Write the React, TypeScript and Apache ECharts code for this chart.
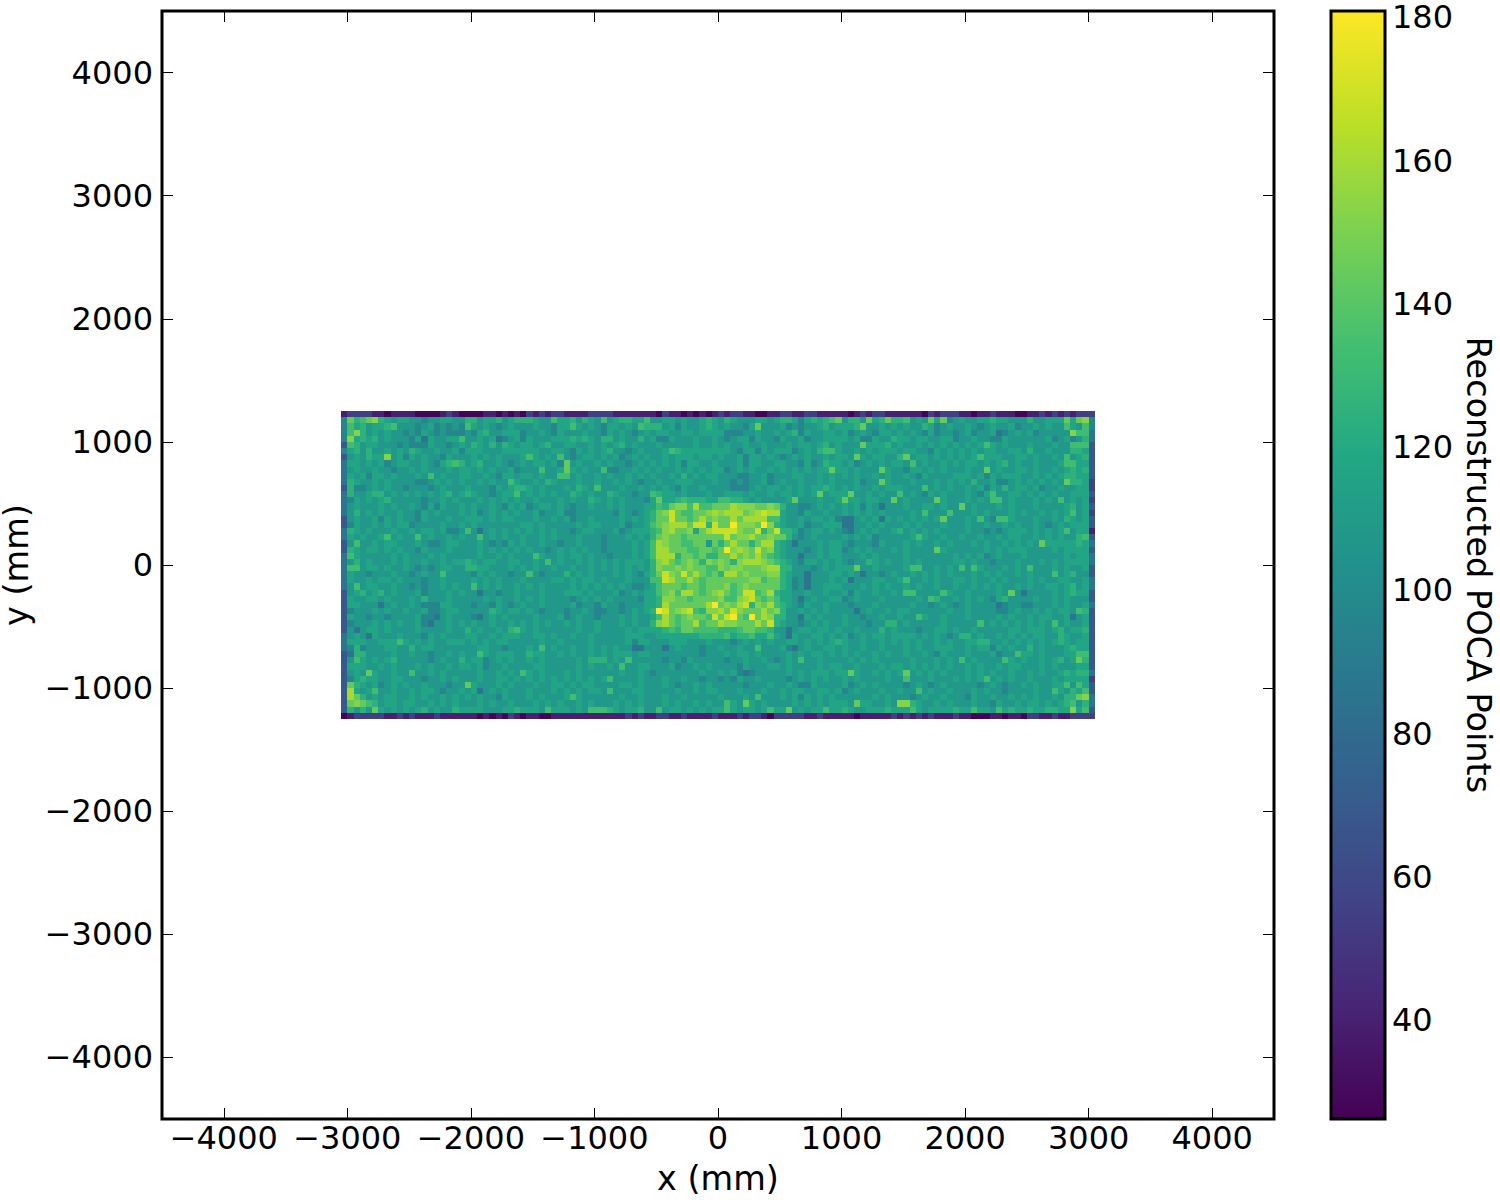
import React, { useEffect, useRef } from "react";
import * as echarts from "echarts";

// Colour-level codes, one string per 50 mm row (top row first), 122 cells each.
const levelCodes = "0123456789abcde";
const levelValues = [28, 40, 55, 70, 86, 97, 108, 117, 125, 133, 144, 152, 160, 168, 180];
const cellRows = [
"1222211011 1100001210 0001101010 2121221111 2222111111 1021101010 1212211001 1221122111 1101212211 1111021222 1101121110 0112121212 22",
"5a89ab8767 7665667766 8867786788 8766977868 7696788779 6677676678 7687666776 7887578789 a6886a78a8 89676a7a56 7667787766 6866777a7a b5",
"5978677896 6656756565 9767656766 6766577976 7657767698 8867576678 7676657a66 6756566786 7778a66767 6766875676 6765676675 6676766976 95",
"59b8676766 5657656555 6578667775 6676576667 6657676567 6776677677 7755566766 7678576677 6756765776 7676575665 6756674567 67566666b9 94",
"5b78786766 6574766779 6676745675 7666777878 7688676686 7557666766 7656775766 5766756677 7767557668 7767766775 6676655766 6666756756 84",
"3986776665 6555766567 6876868767 7678667766 7676786766 6766666766 7676676676 6676776786 7666a77786 7667676767 6767976766 6766676699 93",
"5786866767 6876676675 7776667777 7766776576 7678665676 6679877777 7776577576 7775676899 7667676777 6776657676 7676776677 6866766688 73",
"3676877b67 5767665766 6767676667 9767696567 7676756767 6676777677 6766757767 6567676676 776a767766 8a67767676 7679777667 7676676967 83",
"4776767567 7667657898 6786676567 677675a676 6767665676 7676757766 7666757766 7766575687 7675676767 7696766767 6776767867 6676667997 73",
"4676676656 6767666767 7676766756 669667a767 6695566767 6766767676 7756767667 676767677a 7767666a76 6577676766 6766a67667 7676676787 83",
"4767577676 6676967667 7667657767 7676699676 6767667676 7667686767 7666556675 6667766767 6767667676 6765766667 7767576777 6676767887 73",
"4876676766 6655676767 6676766976 6768766676 6766767656 6766777666 7665656675 6766766767 6667566a76 6676667676 7686675567 6767676a88 72",
"3855676766 5666567666 7666576788 7676667687 6966676676 7676576676 6665556767 7676767787 6767667677 7666967676 6767576867 7675667667 72",
"4866788676 7676767867 8766567796 7676766876 7668766566 9877676667 6677767667 6776767a67 77a6676766 9676576766 6765796677 6767676677 73",
"4576767866 6665667676 6676767676 6766676766 8767676665 7a77898887 7998876766 667a666766 7a7767766a 676666a766 6767699676 6676769676 72",
"4676667676 6765757667 6766765767 5677676566 7667676667 798abb9c99 aaacbbbaab a866556767 6767576466 6766776766 a676667676 6676666786 73",
"4686767667 6657676667 6756767676 6756675566 6666576567 8abda99aab cbcccabcdc c766576676 6767676766 6676966696 6676766676 7667676796 72",
"3676675767 6657666766 7776767766 6766767566 7666676767 8aadaa9aca baacacccc9 9766767767 5446767476 7676767a66 6769659976 6676676876 73",
"3576676767 7566667667 6766666667 7676666676 7766675667 9abcccadd8 daaebbbaeb 8766756677 7446676766 6767666766 6766766767 6676567677 73",
"4876766676 6767767556 9646767676 7676766567 7666756777 89bcaab7ac ddddbaad8a d887567767 6546767667 8676767666 6766565677 7676767967 71",
"4767667967 6696766767 6696767667 6676766676 6656667676 8abaa9aaaa aadabbcaab aa86567666 6767675666 6679766766 7667667677 6676767668 93",
"3696676776 6676556776 6676565767 6676656676 6656666767 9cbaa99aa6 a8acaa8acc 8764666767 7656665766 6767667676 6676766767 676a777778 74",
"3876776767 6657666766 6676767676 7665676767 6656666767 9ccaaa99aa 9aebcbadab 8766656767 7567676667 676666a766 6666767677 7666676777 73",
"4976666676 7666767666 6676676766 6976676776 7665666767 9ccc8aa9a8 8aacabaca9 8766466767 7666767666 6766666667 6767567666 7666666767 74",
"4686766676 7667667677 8767766776 6769676676 7676767776 8bca9aba8b aba8bcccba 9876577676 7656687676 6767666667 7676656667 6667676777 74",
"4996776766 7656567766 8877666767 6766766766 7676767676 8baababaa9 9babbaaabc c886665676 777a667666 6799667676 9697666767 6966676766 73",
"4766566676 6567669666 6576766566 9656668676 7666767657 8adbadaca9 a8ccabaaab b876646667 7676466567 6676767676 6676767667 6766696786 63",
"4766767767 6665667666 6767676667 6666776767 7676667666 99dcaaca9a aaaaaabb9a a875646667 6746667766 7966767667 7676676766 6767667766 74",
"4696776676 6565667676 6967676676 7676666767 6767676556 79aaa9aa9a aab9abaaaa a875646677 7666767676 6767667667 6676767667 6766776786 74",
"3678678676 6675666767 6646656676 6676667776 7666756767 79ab9cca9a bca9add9ac 8776676676 6757667667 6996666976 67666676a6 4666676787 73",
"3766776766 6768666766 6667676676 7676666567 6767666657 78bbaa9aaa ab99bcda9a 9776467667 7567666766 6667698667 6767657866 6676676766 63",
"3776664676 6765557766 6566576567 6676666756 6576656667 78caaaaaac eabacd8bac 9876576676 6656667666 6676656765 6766664566 5566676766 74",
"3566676766 7667556776 6666876776 7656665667 6556656767 8edabcd98b bcadbaaaca b866767676 6664676676 7766666676 6766665567 6676767769 83",
"3766566566 6675546766 6546767666 6766675676 6566676766 79ca9abaa9 dadea9eacb 8866476766 6766566766 7669766766 6766667676 6767766746 73",
"3566676767 6675466767 6766766767 6767667676 6766676766 8bca9aac9a acbbaaacad 8766567676 6766656688 6766666766 6669676767 6767696766 73",
"3646776766 6676666766 8676676897 6766666676 6766667677 77898aa999 98889aa998 6646776776 7667666867 6665667767 6676666677 6777678677 83",
"4676476667 6665767666 7766767776 6776766766 7666667776 6777777788 8897889779 7647667767 6756767767 7776767656 8867667676 7677668766 73",
"4777667779 7676766777 6767677666 6676676666 7666667577 6667776667 6665676767 6677676767 8766766767 6767667676 6778866767 6767678767 73",
"4585666776 6867766666 6677665666 7696766766 7676766446 6646766656 6766766966 6754676677 6766766766 6767667776 6767757676 6867666787 73",
"3488666676 6766566767 6697677766 8776676766 7676777677 6666666656 6676776766 6676767767 6767667676 6766765766 6766675669 7767666779 93",
"3697676786 6666567668 6775676766 7676666676 8886769666 6656657666 6656676676 5676966766 6676767666 6676667676 9676666976 766767867a 83",
"3777667676 6676766767 7675667666 6776666676 7667696677 6667566767 6666576667 7676666767 7667666767 7676767676 6767667677 6667676667 73",
"3676a76676 6966767666 6676676769 7676667676 6666676676 5666666676 6767545666 6676767776 77a7667676 7a67676766 6767676676 6767667878 84",
"3578776677 6665667676 6676677676 7676767676 7679666676 6676676656 6565766766 6656767676 6767666676 6966676667 6767967676 6766676777 72",
"3a87675676 7667666566 a766676766 6766776767 7666677676 6676566767 6666656667 6676557666 6756767666 6567656766 6665676566 7676677969 73",
"3c76796676 6767765667 6746767666 7666767676 7769666776 6666766767 7666766676 6767766776 7567666766 7669676676 6676766566 6676697687 93",
"3ca8676776 6767667676 7676657666 7676667976 6666676676 6676676666 6766676966 6767576767 6666667676 6656766766 6576676676 767667688a b4",
"3aba986776 7766767676 6676766766 6767676676 7666767676 6676766767 66976a7676 6667676767 776a776676 bb87667676 6676657667 6776767896 84",
"38686a7676 7678676687 7776667787 7769777676 9998767786 6967767676 7797677679 77a6767797 7876677787 7797677778 7797769787 78778877b7 93",
"0122222112 1211121111 1101010210 1100111111 1111112121 1221121111 2111212210 2222211211 1110111112 1212121112 1100011011 0221121122 22",
];
const viridis = ["#440154", "#482475", "#414487", "#355f8d", "#2a788e", "#21918c", "#22a884", "#44bf70", "#7ad151", "#bddf26", "#fde725"];
const mainTicks = [-4000, -3000, -2000, -1000, 0, 1000, 2000, 3000, 4000];
const colorTicks = [40, 60, 80, 100, 120, 140, 160, 180];
const colorMin = 26.2;
const colorMax = 180.9;
const binSize = 50;
const xStart = -3050;
const yTop = 1250;

const fontFamily = "DejaVu Sans";
const fontSize = 32;
const nameSize = 33.5;
const minusFmt = (v: number) => String(v).replace("-", "\u2212");

function buildCells() {
  const out: number[][] = [];
  cellRows.forEach((row, r) => {
    row.replace(/ /g, "").split("").forEach((ch, c) => {
      out.push([xStart + (c + 0.5) * binSize, yTop - (r + 0.5) * binSize, levelValues[levelCodes.indexOf(ch)]]);
    });
  });
  return out;
}

function mainAxis(extra: any, labels: boolean, margin: number) {
  return {
    type: "value",
    min: -4500,
    max: 4500,
    gridIndex: 0,
    splitLine: { show: false },
    axisLine: { show: false, onZero: false },
    axisTick: { show: true, inside: true, length: 11, customValues: mainTicks, lineStyle: { color: "#000", width: 1 } },
    axisLabel: {
      show: labels,
      customValues: mainTicks,
      formatter: minusFmt,
      color: "#000",
      fontFamily,
      fontSize,
      margin,
    },
    ...extra,
  };
}

export default function App() {
  const ref = useRef<HTMLDivElement>(null);
  useEffect(() => {
    document.body.style.margin = "0";
    const chart = echarts.init(ref.current!, undefined, { renderer: "svg" });
    const gradientStops = viridis.map((_, i) => ({ offset: i / (viridis.length - 1), color: viridis[viridis.length - 1 - i] }));
    chart.setOption({
      animation: false,
      backgroundColor: "#fff",
      grid: [
        { left: 162, top: 11, width: 1112, height: 1108, show: true, borderColor: "#000", borderWidth: 3, backgroundColor: "#fff", outerBoundsMode: "none" },
        { left: 1331, top: 11, width: 54, height: 1108, show: true, borderColor: "#000", borderWidth: 3, z: 5, outerBoundsMode: "none" },
      ],
      xAxis: [
        mainAxis({ position: "bottom", name: "x (mm)", nameLocation: "middle", nameGap: 42, nameTextStyle: { color: "#000", fontFamily, fontSize: nameSize } }, true, 3),
        mainAxis({ position: "top" }, false, 3),
        { type: "value", gridIndex: 1, min: 0, max: 1, show: false },
      ],
      yAxis: [
        mainAxis({ position: "left", name: "y (mm)", nameLocation: "middle", nameGap: 120, nameTextStyle: { color: "#000", fontFamily, fontSize: nameSize } }, true, 9),
        mainAxis({ position: "right" }, false, 9),
        {
          type: "value",
          gridIndex: 1,
          position: "right",
          min: colorMin,
          max: colorMax,
          splitLine: { show: false },
          axisLine: { show: false, onZero: false },
          axisTick: { show: true, inside: true, length: 11, customValues: colorTicks, lineStyle: { color: "#000", width: 1 } },
          axisLabel: { customValues: colorTicks, color: "#000", fontFamily, fontSize, margin: 7 },
          name: "Reconstructed POCA Points",
          nameLocation: "middle",
          nameRotate: -90,
          nameGap: 76,
          nameTextStyle: { color: "#000", fontFamily, fontSize: nameSize },
        },
      ],
      visualMap: {
        show: false,
        seriesIndex: 0,
        dimension: 2,
        min: colorMin,
        max: colorMax,
        inRange: { color: viridis },
      },
      series: [
        {
          type: "custom",
          xAxisIndex: 0,
          yAxisIndex: 0,
          data: buildCells(),
          encode: { x: 0, y: 1 },
          renderItem: (_: any, api: any) => {
            const p0 = api.coord([api.value(0) - binSize / 2, api.value(1) + binSize / 2]);
            const p1 = api.coord([api.value(0) + binSize / 2, api.value(1) - binSize / 2]);
            const x0 = Math.round(p0[0]);
            const y0 = Math.round(p0[1]);
            return {
              type: "rect",
              shape: { x: x0, y: y0, width: Math.round(p1[0]) - x0, height: Math.round(p1[1]) - y0 },
              style: { fill: api.visual("color") },
            };
          },
        },
        {
          type: "custom",
          xAxisIndex: 2,
          yAxisIndex: 2,
          data: [[0, colorMin, 1, colorMax]],
          encode: { x: [0, 2], y: [1, 3] },
          renderItem: (_: any, api: any) => {
            const p0 = api.coord([0, colorMax]);
            const p1 = api.coord([1, colorMin]);
            return {
              type: "rect",
              shape: { x: p0[0], y: p0[1], width: p1[0] - p0[0], height: p1[1] - p0[1] },
              style: { fill: new echarts.graphic.LinearGradient(0, 0, 0, 1, gradientStops) },
            };
          },
        },
      ],
    });
    return () => chart.dispose();
  }, []);
  return <div ref={ref} style={{ width: 1500, height: 1200 }} />;
}
